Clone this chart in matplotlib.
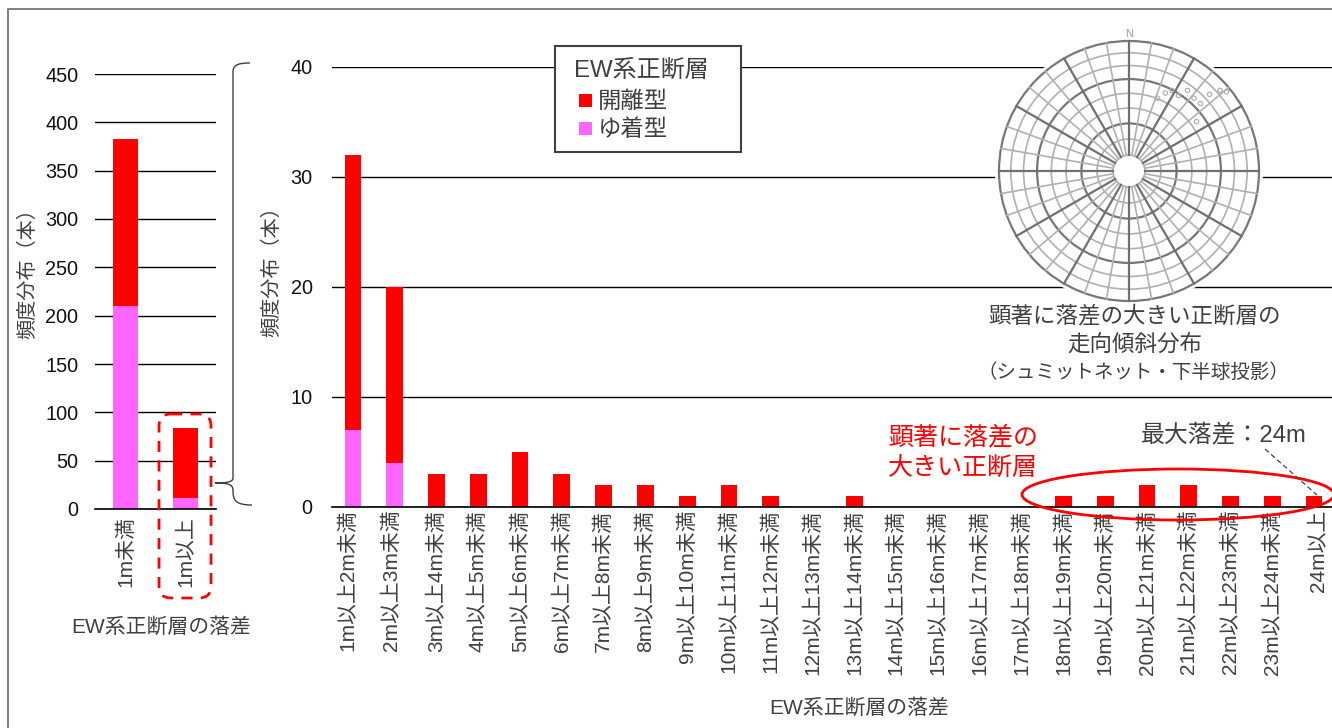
import matplotlib
matplotlib.use('Agg')
import matplotlib.pyplot as plt
from matplotlib.patches import Circle, Ellipse, FancyBboxPatch, PathPatch, Rectangle
from matplotlib.path import Path
from matplotlib.transforms import ScaledTranslation
import numpy as np

plt.rcParams['font.family'] = ['Liberation Sans', 'Noto Sans CJK JP', 'DejaVu Sans']

RED = '#ff0000'
PINK = '#ff66ff'
TEXT = '#404040'

W, H = 1332, 728

# left chart
left_labels = ['1m未満', '1m以上']
left_open = [173, 73]
left_sticky = [210, 11]

# right chart
main_labels = ['1m以上2m未満', '2m以上3m未満', '3m以上4m未満', '4m以上5m未満', '5m以上6m未満',
               '6m以上7m未満', '7m以上8m未満', '8m以上9m未満', '9m以上10m未満', '10m以上11m未満',
               '11m以上12m未満', '12m以上13m未満', '13m以上14m未満', '14m以上15m未満', '15m以上16m未満',
               '16m以上17m未満', '17m以上18m未満', '18m以上19m未満', '19m以上20m未満', '20m以上21m未満',
               '21m以上22m未満', '22m以上23m未満', '23m以上24m未満', '24m以上']
main_open = [25, 16, 3, 3, 5, 3, 2, 2, 1, 2, 1, 0, 1, 0, 0, 0, 0, 1, 1, 2, 2, 1, 1, 1]
main_sticky = [7, 4, 0, 0, 0, 0, 0, 0, 0, 0, 0, 0, 0, 0, 0, 0, 0, 0, 0, 0, 0, 0, 0, 0]

# pole marks on the net, as (x, y) in net units (outer circle = 1)
pole_x = [0.22, 0.28, 0.33, 0.38, 0.45, 0.50, 0.55, 0.62, 0.70, 0.75, 0.52]
pole_y = [0.56, 0.60, 0.62, 0.58, 0.62, 0.56, 0.52, 0.59, 0.62, 0.61, 0.38]


def px_axes(fig, x0, y0, x1, y1):
    # axes from pixel corners, y counted from the top of the picture
    return fig.add_axes([x0 / W, 1 - y1 / H, (x1 - x0) / W, (y1 - y0) / H])


def bar_chart(ax, labels, lower, upper, width, ticks, ymax, ypad, xpad):
    x = np.arange(len(labels))
    ax.bar(x, lower, width, color=PINK, zorder=3)
    ax.bar(x, upper, width, bottom=lower, color=RED, zorder=3)
    ax.set_xlim(-0.5, len(labels) - 0.5)
    ax.set_ylim(0, ymax)
    ax.set_yticks(ticks)
    ax.set_xticks(x)
    ax.set_xticklabels(labels, rotation=90, fontsize=15, color=TEXT)
    ax.tick_params(axis='both', length=0)
    ax.tick_params(axis='y', labelsize=14.3, labelcolor='#111111', pad=ypad)
    ax.tick_params(axis='x', pad=xpad)
    ax.grid(axis='y', color='black', linewidth=1, zorder=0)
    for s in ['top', 'right', 'left']:
        ax.spines[s].set_visible(False)
    ax.spines['bottom'].set_color('black')
    ax.spines['bottom'].set_linewidth(1.2)
    ax.spines['bottom'].set_zorder(4)


fig = plt.figure(figsize=(W / 100, H / 100), dpi=100)

ax1 = px_axes(fig, 95, 74, 216, 509)
bar_chart(ax1, left_labels, left_sticky, left_open, 0.41, range(0, 451, 50), 450, 12, 5)

ax2 = px_axes(fig, 332, 67, 1335, 507)
bar_chart(ax2, main_labels, main_sticky, main_open, 0.4, range(0, 41, 10), 40, 14, 2)

# the first two and the last label sit a little off their bars in the original
tick_texts = ax2.get_xticklabels()
for i, dx in [(0, -5), (1, -3), (23, 5)]:
    tick_texts[i].set_transform(tick_texts[i].get_transform() + ScaledTranslation(dx / 100, 0, fig.dpi_scale_trans))

# everything else sits on a pixel overlay
ov = fig.add_axes([0, 0, 1, 1], zorder=5)
ov.set_xlim(0, W)
ov.set_ylim(H, 0)
ov.axis('off')
ov.patch.set_alpha(0)

# picture frame
ov.plot([8, 8, W], [H, 9, 9], color='#808080', linewidth=1.4)

ov.text(28, 269, '頻度分布（本）', rotation=90, ha='center', va='center', fontsize=14.5, color=TEXT)
ov.text(272, 267, '頻度分布（本）', rotation=90, ha='center', va='center', fontsize=14.5, color=TEXT)
ov.text(161, 627, 'EW系正断層の落差', ha='center', va='center', fontsize=15, color=TEXT)
ov.text(859, 708, 'EW系正断層の落差', ha='center', va='center', fontsize=15, color=TEXT)

# legend box
ov.add_patch(Rectangle((555, 46), 186, 106, facecolor='white', edgecolor='#404040', linewidth=1.5))
ov.text(574, 71, 'EW系正断層', va='center', fontsize=17.3, color=TEXT)
ov.add_patch(Rectangle((579, 94), 13, 13, facecolor=RED, edgecolor='none'))
ov.add_patch(Rectangle((579, 122), 13, 13, facecolor=PINK, edgecolor='none'))
ov.text(598, 101, '開離型', va='center', fontsize=16.8, color=TEXT)
ov.text(598, 129, 'ゆ着型', va='center', fontsize=16.8, color=TEXT)

# Schmidt net
cx, cy, R = 1129, 171, 130
ov.add_patch(Circle((cx, cy), 134, facecolor='white', edgecolor='none', zorder=1))
for dip in range(10, 91, 10):
    r = R * np.sqrt(2) * np.sin(np.radians(dip / 2))
    major = dip % 30 == 0
    ov.add_patch(Circle((cx, cy), r, fill=False, zorder=2,
                        edgecolor='#777777' if major else '#b0b0b0',
                        linewidth=1.6 if major else 1.2))
r_in = R * np.sqrt(2) * np.sin(np.radians(5))
for az in range(0, 360, 10):
    major = az % 30 == 0
    a = np.radians(az)
    ov.plot([cx + r_in * np.sin(a), cx + R * np.sin(a)],
            [cy - r_in * np.cos(a), cy - R * np.cos(a)],
            color='#707070' if major else '#b0b0b0',
            linewidth=1.6 if major else 1.2, zorder=2)
ov.text(cx, 34, 'N', ha='center', va='center', fontsize=8, color='#999999')
ov.scatter(cx + R * np.array(pole_x), cy - R * np.array(pole_y), s=10, facecolor='none',
           edgecolor='#aaaaaa', linewidth=0.8, zorder=3)

ov.text(1135, 316, '顕著に落差の大きい正断層の', ha='center', va='center', fontsize=16.2, color=TEXT)
ov.text(1135, 345, '走向傾斜分布', ha='center', va='center', fontsize=16.2, color=TEXT)
ov.text(1133, 373, '（シュミットネット・下半球投影）', ha='center', va='center', fontsize=14, color=TEXT)

# notes on the right chart
ov.text(963, 437, '顕著に落差の', ha='center', va='center', fontsize=18, color=RED)
ov.text(963, 468, '大きい正断層', ha='center', va='center', fontsize=18, color=RED)
ov.add_patch(Ellipse((1178, 494.5), 312, 51, fill=False, edgecolor=RED, linewidth=2))
ov.text(1224, 435, '最大落差：24m', ha='center', va='center', fontsize=17.2, color=TEXT)
ov.plot([1265, 1317], [449, 495], color='#404040', linewidth=0.9, linestyle=(0, (4, 2.5)))

# dashed box around the 1m以上 bar
ov.add_patch(FancyBboxPatch((167, 422), 36, 168, boxstyle='round,pad=8,rounding_size=12',
                            fill=False, edgecolor=RED, linewidth=2, linestyle=(0, (4, 3))))

# brace linking the two charts
verts = [(250, 63), (238, 63), (233, 65), (233, 72),
         (233, 478), (233, 482), (227, 483), (215, 483),
         (227, 483), (233, 484), (233, 490),
         (233, 500), (235, 505), (252, 505)]
codes = [Path.MOVETO, Path.CURVE4, Path.CURVE4, Path.CURVE4,
         Path.LINETO, Path.CURVE4, Path.CURVE4, Path.CURVE4,
         Path.CURVE4, Path.CURVE4, Path.CURVE4,
         Path.CURVE4, Path.CURVE4, Path.CURVE4]
ov.add_patch(PathPatch(Path(verts, codes), fill=False, edgecolor='#404040', linewidth=1))

fig.savefig('out.png', dpi=100, facecolor='white')
